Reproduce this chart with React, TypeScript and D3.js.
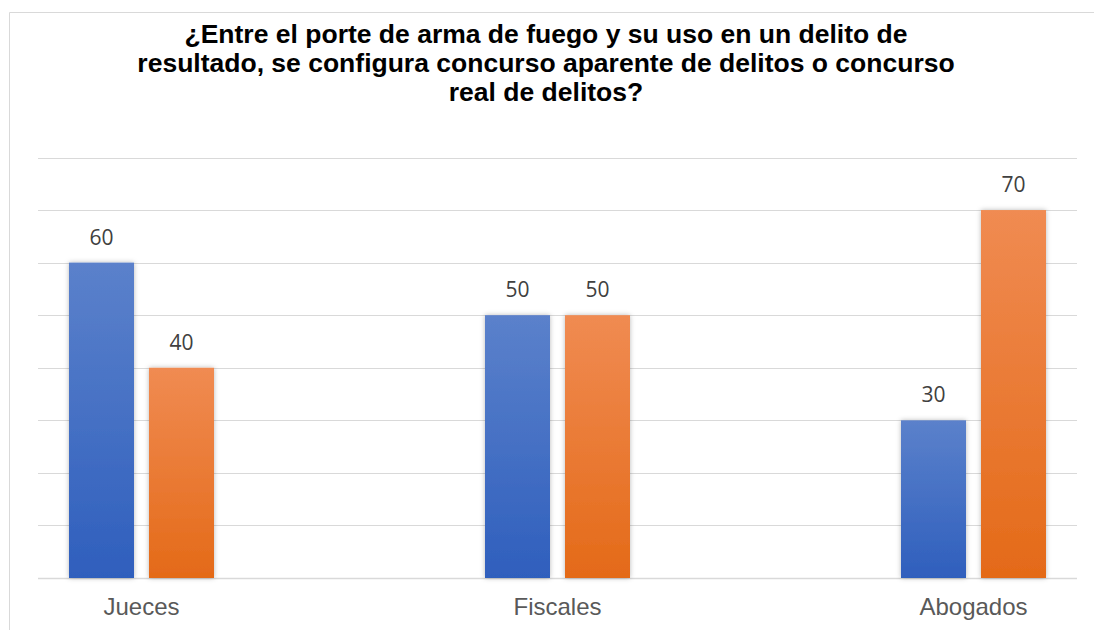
import * as d3 from "d3";

const titleLines = [
  "¿Entre el porte de arma de fuego y su uso en un delito de",
  "resultado, se configura concurso aparente de delitos o concurso",
  "real de delitos?",
];
const categories = ["Jueces", "Fiscales", "Abogados"];
const seriesKeys = ["s1", "s2"];
const seriesA = [60, 50, 30];
const seriesB = [40, 50, 70];
const gridTicks = [0, 10, 20, 30, 40, 50, 60, 70, 80];

const W = 1094;
const H = 630;

export default function App() {
  const x = d3.scalePoint<string>().domain(categories).range([141.5, 973.5]);
  const inner = d3.scaleBand<string>().domain(seriesKeys).range([-72.5, 72.5]).paddingInner(0.1875);
  const y = d3.scaleLinear().domain([0, 80]).range([578, 157.5]);

  const rows = categories.map((c, i) => ({ cat: c, vals: [seriesA[i], seriesB[i]] }));
  const fills = ["url(#gBlue)", "url(#gOrange)"];

  return (
    <svg
      width={W}
      height={H}
      style={{ position: "absolute", left: 0, top: 0, background: "#fff" }}
    >
      <defs>
        <linearGradient id="gBlue" x1="0" y1="0" x2="0" y2="1">
          <stop offset="0%" stopColor="#5b81cb" />
          <stop offset="100%" stopColor="#2f5fbd" />
        </linearGradient>
        <linearGradient id="gOrange" x1="0" y1="0" x2="0" y2="1">
          <stop offset="0%" stopColor="#f08b52" />
          <stop offset="100%" stopColor="#e46a18" />
        </linearGradient>
        <filter id="shadow" x="-20%" y="-10%" width="140%" height="120%">
          <feDropShadow dx="0" dy="0" stdDeviation="2.5" floodColor="#000" floodOpacity="0.28" />
        </filter>
      </defs>

      {/* chart frame */}
      <path d={`M9.5,${H} V12.5 H${W}`} fill="none" stroke="#d9d9d9" strokeWidth={1} />

      {/* title */}
      <text
        textAnchor="middle"
        fontFamily="'Liberation Sans', Arial, sans-serif"
        fontWeight="bold"
        fontSize={26.5}
        fill="#000"
      >
        {titleLines.map((t, i) => (
          <tspan key={i} x={546} y={43 + i * 29}>
            {t}
          </tspan>
        ))}
      </text>

      {/* gridlines */}
      {gridTicks.map((t) => (
        <line
          key={t}
          x1={38}
          x2={1077}
          y1={Math.round(y(t)) + 0.5}
          y2={Math.round(y(t)) + 0.5}
          stroke="#d9d9d9"
          strokeWidth={t === 0 ? 1.5 : 1}
        />
      ))}

      {/* bars */}
      {rows.map((r) => (
        <g key={r.cat} transform={`translate(${x(r.cat)},0)`}>
          {r.vals.map((v, j) => (
            <rect
              key={j}
              x={inner(seriesKeys[j])}
              y={y(v)}
              width={inner.bandwidth()}
              height={y(0) - y(v)}
              fill={fills[j]}
              filter="url(#shadow)"
            />
          ))}
          {r.vals.map((v, j) => (
            <text
              key={"l" + j}
              x={(inner(seriesKeys[j]) ?? 0) + inner.bandwidth() / 2}
              y={y(v) - 18}
              textAnchor="middle"
              fontFamily="'Open Sans', sans-serif"
              fontSize={21}
              fill="#404040"
            >
              {v}
            </text>
          ))}
          <text
            y={615}
            textAnchor="middle"
            fontFamily="'Liberation Sans', Arial, sans-serif"
            fontSize={24}
            fill="#595959"
          >
            {r.cat}
          </text>
        </g>
      ))}
    </svg>
  );
}
